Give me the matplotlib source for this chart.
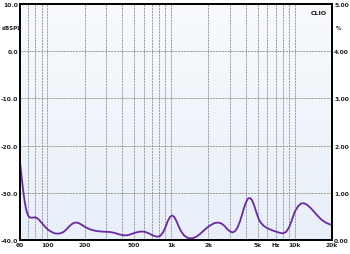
import matplotlib
matplotlib.use("Agg")
import matplotlib.pyplot as plt
import numpy as np
from matplotlib.colors import LinearSegmentedColormap

freq = [60, 61, 62, 63, 64, 65, 66, 67, 68, 70, 72, 75, 78, 80, 83, 86, 90, 95, 100, 105, 110, 115,
        120, 127, 135, 143, 150, 158, 165, 172, 180, 190, 200, 215, 230, 250, 270, 295, 320, 350,
        380, 410, 440, 470, 500, 540, 580, 620, 660, 700, 740, 780, 820, 860, 900, 940, 980, 1020,
        1060, 1100, 1150, 1200, 1270, 1350, 1420, 1500, 1600, 1700, 1800, 1950, 2100, 2250, 2400,
        2550, 2700, 2850, 3000, 3150, 3300, 3450, 3600, 3750, 3900, 4050, 4200, 4350, 4500, 4700,
        4900, 5100, 5300, 5600, 6000, 6500, 7000, 7500, 8000, 8500, 9000, 9500, 10000, 10600,
        11200, 11800, 12500, 13300, 14200, 15200, 16300, 17500, 18800, 20000]
spl = [-23.5, -25.2, -26.9, -28.5, -30.0, -31.3, -32.4, -33.3, -34.0, -34.9, -35.2, -35.3, -35.2,
       -35.2, -35.4, -35.8, -36.4, -37.1, -37.7, -38.1, -38.4, -38.6, -38.65, -38.6, -38.3, -37.7,
       -37.1, -36.6, -36.35, -36.3, -36.45, -36.8, -37.2, -37.6, -37.9, -38.1, -38.2, -38.25,
       -38.3, -38.5, -38.8, -39.0, -39.0, -38.8, -38.55, -38.3, -38.2, -38.3, -38.6, -38.95,
       -39.2, -39.3, -39.1, -38.4, -37.3, -36.0, -35.1, -34.8, -35.1, -35.9, -37.1, -38.1,
       -39.0, -39.5, -39.65, -39.6, -39.3, -38.8, -38.2, -37.4, -36.8, -36.4, -36.3, -36.5,
       -37.0, -37.7, -38.2, -38.4, -38.1, -37.3, -36.1, -34.6, -33.1, -31.9, -31.2, -31.1,
       -31.5, -32.7, -34.2, -35.5, -36.3, -37.0, -37.5, -37.9, -38.2, -38.45, -38.6, -38.3,
       -37.3, -35.7, -34.0, -32.9, -32.3, -32.2, -32.5, -33.1, -33.9, -34.8, -35.6, -36.2,
       -36.6, -36.8]

xtick_vals = [60, 100, 200, 500, 1000, 2000, 5000, 7000, 10000, 20000]
xtick_labels = ["60", "100", "200", "500", "1k", "2k", "5k", "Hz", "10k", "20k"]
ytick_vals = [10, 0, -10, -20, -30, -40]
ytick_labels = ["10.0", "0.0", "-10.0", "-20.0", "-30.0", "-40.0"]
rtick_labels = ["5.00", "4.00", "3.00", "2.00", "1.00", "0.00"]

fig = plt.figure(figsize=(3.5, 2.55), dpi=100)
fig.patch.set_facecolor("white")
ax = fig.add_axes([20/350, 14/255, 312/350, 236/255])
ax.set_xscale("log")
ax.set_xlim(60, 20000)
ax.set_ylim(-40, 10)

grad = np.linspace(0, 1, 256).reshape(-1, 1)
cmap = LinearSegmentedColormap.from_list("bg", ["#e8eff9", "#f8fafd"])
ax.imshow(grad, extent=[60, 20000, -40, 10], aspect="auto", cmap=cmap, origin="lower", zorder=0)

grid_freqs = []
for dec in [10, 100, 1000, 10000]:
    for m in range(1, 10):
        f = m * dec
        if 60 < f < 20000:
            grid_freqs.append(f)
for f in grid_freqs:
    ax.axvline(f, color="#909090", lw=0.6, ls=(0, (2.5, 1)), zorder=1)
for y in ytick_vals[1:-1]:
    ax.axhline(y, color="#8f8f80", lw=0.6, ls=(0, (2.5, 1)), zorder=1)

ax.plot(freq, spl, color="#6a2aa0", lw=1.3, zorder=3, solid_joinstyle="round")

ax.set_xticks(xtick_vals)
ax.set_xticklabels(xtick_labels)
ax.xaxis.set_minor_locator(matplotlib.ticker.NullLocator())
ax.set_yticks(ytick_vals)
ax.set_yticklabels(ytick_labels)
ax.tick_params(axis="both", length=0, labelsize=4.3, pad=1.5, colors="#222222")
for lab in ax.get_xticklabels() + ax.get_yticklabels():
    lab.set_fontweight("bold")

ax2 = ax.twinx()
ax2.set_ylim(-40, 10)
ax2.set_yticks(ytick_vals)
ax2.set_yticklabels(rtick_labels)
ax2.tick_params(axis="y", length=0, labelsize=4.3, pad=1.5, colors="#222222")
for lab in ax2.get_yticklabels():
    lab.set_fontweight("bold")

for a in (ax, ax2):
    for s in a.spines.values():
        s.set_color("black")
        s.set_linewidth(1.3)

fig.text(2/350, 1 - 28/255, "dBSPL", fontsize=4, fontweight="bold", color="#222222", va="center")
fig.text(336/350, 1 - 28/255, "%", fontsize=4, fontweight="bold", color="#222222", va="center")
ax.text(0.985, 0.975, "CLIO", transform=ax.transAxes, fontsize=4.5, fontweight="bold",
        ha="right", va="top", color="#111111")

fig.savefig("out.png", dpi=100)
